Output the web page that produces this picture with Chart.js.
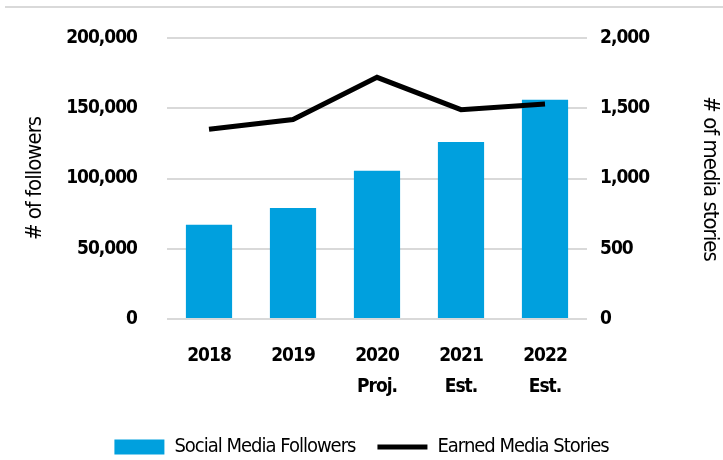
<!DOCTYPE html>
<html>
<head>
<meta charset="utf-8">
<script src="https://cdn.jsdelivr.net/npm/chart.js@4.4.0/dist/chart.umd.min.js"></script>
<style>
  html, body { margin: 0; padding: 0; background: #fff; }
  #wrap { width: 723px; height: 460px; position: relative; }
</style>
</head>
<body>
<div id="wrap"><canvas id="chart" width="723" height="460"></canvas></div>
<script>
const years = [['2018'], ['2019'], ['2020', 'Proj.'], ['2021', 'Est.'], ['2022', 'Est.']];
const followers = [67000, 79000, 105500, 126000, 156000];
const mediaStories = [1350, 1420, 1720, 1490, 1530];
const followerTicks = [0, 50000, 100000, 150000, 200000];
const storyTicks = [0, 500, 1000, 1500, 2000];

const FONT = "'DejaVu Sans Condensed', 'Liberation Sans Narrow', sans-serif";

// narrow the text a bit, the original uses a very condensed face
const tightText = {
    id: 'tightText',
    beforeUpdate(chart) { chart.ctx.letterSpacing = '-1px'; },
    beforeDraw(chart) {
        const ctx = chart.ctx;
        ctx.letterSpacing = '-1px';
        ctx.save();
        ctx.strokeStyle = '#d9d9d9';
        ctx.lineWidth = 2;
        ctx.beginPath();
        ctx.moveTo(5, 7);
        ctx.lineTo(723, 7);
        ctx.stroke();
        ctx.restore();
    }
};

Chart.defaults.font.family = FONT;
Chart.defaults.font.weight = 'bold';
Chart.defaults.color = '#000';

new Chart(document.getElementById('chart'), {
    type: 'bar',
    data: {
        labels: years,
        datasets: [
            {
                type: 'line',
                label: 'Earned Media Stories',
                data: mediaStories,
                yAxisID: 'y2',
                borderColor: '#000',
                backgroundColor: '#000',
                borderWidth: 5,
                pointRadius: 0,
                tension: 0,
                order: 0
            },
            {
                type: 'bar',
                label: 'Social Media Followers',
                data: followers,
                yAxisID: 'y',
                backgroundColor: '#00a0de',
                barPercentage: 0.55,
                categoryPercentage: 1,
                order: 1
            }
        ]
    },
    options: {
        responsive: false,
        animation: false,
        layout: { padding: { top: 38, left: 0, right: 0, bottom: -7 } },
        plugins: {
            tooltip: { enabled: false },
            legend: {
                position: 'bottom',
                reverse: true,
                labels: {
                    usePointStyle: true,
                    pointStyleWidth: 50,
                    boxHeight: 15,
                    padding: 22,
                    font: { size: 20, weight: 'normal' },
                    color: '#000',
                    generateLabels(chart) {
                        return chart.data.datasets.map((ds, i) => ({
                            text: ds.label,
                            fillStyle: ds.type === 'line' ? '#000' : ds.backgroundColor,
                            strokeStyle: ds.type === 'line' ? '#000' : ds.backgroundColor,
                            lineWidth: ds.type === 'line' ? 5 : 0,
                            pointStyle: ds.type === 'line' ? 'line' : 'rect',
                            datasetIndex: i,
                            hidden: false
                        }));
                    }
                }
            }
        },
        scales: {
            x: {
                grid: { display: false },
                border: { display: false },
                ticks: {
                    font: { size: 19, lineHeight: 1.6 },
                    padding: 14,
                    maxRotation: 0
                },
                afterFit(scale) { scale.height = 96; }
            },
            y: {
                position: 'left',
                min: 0,
                max: 200000,
                afterBuildTicks(scale) { scale.ticks = followerTicks.map(v => ({ value: v })); },
                grid: { color: '#d9d9d9', lineWidth: 2, drawTicks: false },
                border: { display: false },
                ticks: {
                    font: { size: 19 },
                    padding: 30,
                    callback: v => v.toLocaleString('en-US')
                },
                title: {
                    display: true,
                    text: '# of followers',
                    font: { size: 22, weight: 'normal' },
                    padding: { top: 22, bottom: 0 }
                },
                afterFit(scale) {
                    scale.width = 167;
                    scale.paddingTop = 0;
                }
            },
            y2: {
                position: 'right',
                min: 0,
                max: 2000,
                afterBuildTicks(scale) { scale.ticks = storyTicks.map(v => ({ value: v })); },
                grid: { display: false },
                border: { display: false },
                ticks: {
                    font: { size: 19 },
                    padding: 5,
                    callback: v => v.toLocaleString('en-US')
                },
                title: {
                    display: true,
                    text: '# of media stories',
                    font: { size: 22, weight: 'normal' },
                    padding: { top: 0, bottom: 11 }
                },
                afterFit(scale) {
                    scale.width = 136;
                    scale.paddingTop = 0;
                }
            }
        }
    },
    plugins: [tightText]
});
</script>
</body>
</html>
